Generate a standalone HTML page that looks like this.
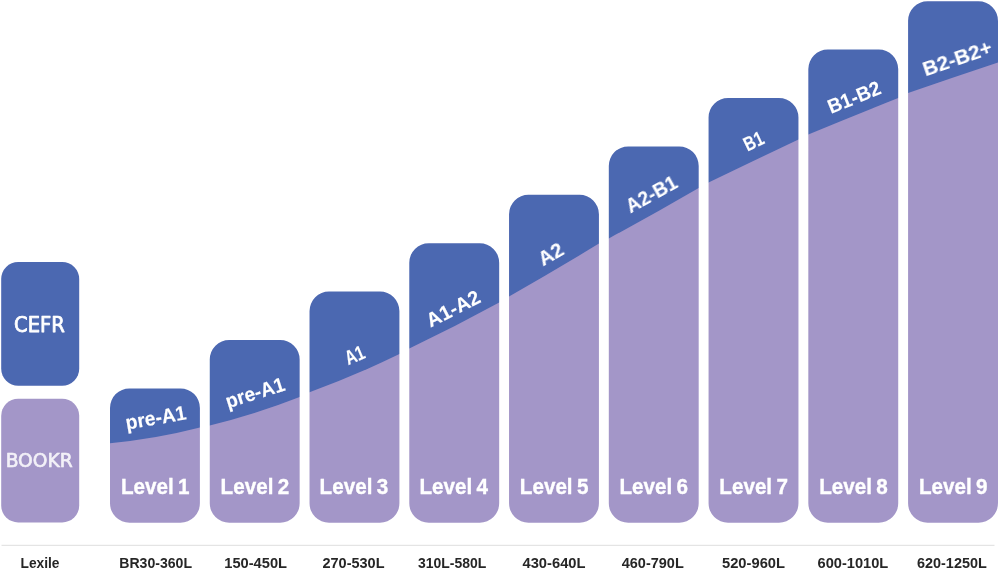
<!DOCTYPE html>
<html lang="en">
<head>
<meta charset="utf-8">
<title>CEFR / BOOKR / Lexile levels</title>
<style>
html,body{margin:0;padding:0;background:#fff;}
body{width:1000px;height:570px;overflow:hidden;font-family:"Liberation Sans",sans-serif;}
svg{display:block;}
text{font-family:"Liberation Sans",sans-serif;}
.cefr{fill:#fff;font-weight:bold;stroke:#fff;stroke-width:0.12px;}
.lvl{fill:#fff;font-weight:bold;stroke:#fff;stroke-width:0.35px;word-spacing:-1.5px;}
.lex{fill:#262626;font-weight:bold;}
.soft{filter:url(#soft);}
</style>
</head>
<body>
<svg width="1000" height="570" viewBox="0 0 1000 570">
<defs>
<filter id="soft" x="-5%" y="-5%" width="110%" height="110%"><feGaussianBlur stdDeviation="0.45"/></filter>
<filter id="softt" x="-5%" y="-20%" width="110%" height="140%"><feGaussianBlur stdDeviation="0.6"/></filter>
<clipPath id="bars">
<rect x="110.00" y="388.40" width="89.90" height="134.40" rx="19.5" ry="19.5"/>
<rect x="209.76" y="340.00" width="89.90" height="182.80" rx="19.5" ry="19.5"/>
<rect x="309.52" y="291.60" width="89.90" height="231.20" rx="19.5" ry="19.5"/>
<rect x="409.28" y="243.20" width="89.90" height="279.60" rx="19.5" ry="19.5"/>
<rect x="509.04" y="194.80" width="89.90" height="328.00" rx="19.5" ry="19.5"/>
<rect x="608.80" y="146.40" width="89.90" height="376.40" rx="19.5" ry="19.5"/>
<rect x="708.56" y="98.00" width="89.90" height="424.80" rx="19.5" ry="19.5"/>
<rect x="808.32" y="49.60" width="89.90" height="473.20" rx="19.5" ry="19.5"/>
<rect x="908.08" y="1.20" width="89.90" height="521.60" rx="19.5" ry="19.5"/>
</clipPath>
</defs>
<rect width="1000" height="570" fill="#fff"/>
<g class="soft">
<rect x="1.2" y="262" width="78" height="123.8" rx="17" ry="17" fill="#4c67b1"/>
<rect x="1.2" y="398.8" width="78" height="123.6" rx="17" ry="17" fill="#a396c8"/>
<g clip-path="url(#bars)">
<rect x="100" y="0" width="900" height="530" fill="#4c67b1"/>
<path d="M104.00,444.00 L110.00,443.20 Q154.95,439.20 199.90,427.60 L209.76,425.50 Q254.71,414.55 299.66,397.00 L309.52,392.20 Q354.47,375.90 399.42,354.00 L409.28,348.60 Q454.23,327.05 499.18,302.50 L509.04,296.40 Q553.99,271.00 598.94,243.60 L608.80,238.40 Q653.75,214.20 698.70,188.00 L708.56,182.40 Q753.51,161.00 798.46,139.60 L808.32,134.40 Q853.27,115.80 898.22,98.00 L908.08,93.00 Q953.03,77.30 997.98,62.40 L1006,61.40 L1006,530 L100,530 Z" fill="#a396c8"/>
</g>
</g>
<rect x="1.5" y="544.8" width="993" height="1" fill="#dedede"/>
<g filter="url(#softt)">
<text x="14.10" y="331.60" font-size="22.00" textLength="50.80" lengthAdjust="spacingAndGlyphs" fill="#ffffff" stroke="#ffffff" stroke-width="0.75" stroke-linejoin="round" font-weight="normal" style="font-family:'DejaVu Sans Condensed','DejaVu Sans','Liberation Sans',sans-serif">CEFR</text>
<text x="5.70" y="466.90" font-size="19.00" textLength="67.00" lengthAdjust="spacingAndGlyphs" fill="#f3f1f8" stroke="#f3f1f8" stroke-width="0.60" stroke-linejoin="round" font-weight="normal" style="font-family:'DejaVu Sans Condensed','DejaVu Sans','Liberation Sans',sans-serif">BOOKR</text>
<text class="cefr" transform="translate(155.69 417.33) rotate(-9.80)" x="-30.61" y="7.20" font-size="20.00" textLength="61.22" lengthAdjust="spacingAndGlyphs">pre-A1</text>
<text class="cefr" transform="translate(254.94 392.31) rotate(-17.60)" x="-30.59" y="7.20" font-size="20.00" textLength="61.17" lengthAdjust="spacingAndGlyphs">pre-A1</text>
<text class="cefr" transform="translate(354.56 354.79) rotate(-23.00)" x="-9.89" y="7.20" font-size="20.00" textLength="19.78" lengthAdjust="spacingAndGlyphs">A1</text>
<text class="cefr" transform="translate(453.02 308.36) rotate(-26.80)" x="-28.80" y="7.20" font-size="20.00" textLength="57.61" lengthAdjust="spacingAndGlyphs">A1-A2</text>
<text class="cefr" transform="translate(550.65 254.10) rotate(-30.00)" x="-12.87" y="7.20" font-size="20.00" textLength="25.74" lengthAdjust="spacingAndGlyphs">A2</text>
<text class="cefr" transform="translate(651.39 194.05) rotate(-28.90)" x="-27.73" y="7.20" font-size="20.00" textLength="55.45" lengthAdjust="spacingAndGlyphs">A2-B1</text>
<text class="cefr" transform="translate(753.50 140.89) rotate(-25.50)" x="-10.02" y="7.20" font-size="20.00" textLength="20.03" lengthAdjust="spacingAndGlyphs">B1</text>
<text class="cefr" transform="translate(854.00 97.04) rotate(-22.00)" x="-27.66" y="7.20" font-size="20.00" textLength="55.31" lengthAdjust="spacingAndGlyphs">B1-B2</text>
<text class="cefr" transform="translate(957.40 58.22) rotate(-18.80)" x="-35.90" y="7.20" font-size="20.00" textLength="71.80" lengthAdjust="spacingAndGlyphs">B2-B2+</text>
<text class="lvl" x="121.00" y="493.80" font-size="21.70" textLength="68.60" lengthAdjust="spacingAndGlyphs">Level 1</text>
<text class="lvl" x="220.60" y="493.80" font-size="21.70" textLength="68.60" lengthAdjust="spacingAndGlyphs">Level 2</text>
<text class="lvl" x="319.60" y="493.80" font-size="21.70" textLength="68.60" lengthAdjust="spacingAndGlyphs">Level 3</text>
<text class="lvl" x="419.50" y="493.80" font-size="21.70" textLength="68.60" lengthAdjust="spacingAndGlyphs">Level 4</text>
<text class="lvl" x="519.80" y="493.80" font-size="21.70" textLength="68.60" lengthAdjust="spacingAndGlyphs">Level 5</text>
<text class="lvl" x="619.40" y="493.80" font-size="21.70" textLength="68.60" lengthAdjust="spacingAndGlyphs">Level 6</text>
<text class="lvl" x="719.30" y="493.80" font-size="21.70" textLength="68.60" lengthAdjust="spacingAndGlyphs">Level 7</text>
<text class="lvl" x="819.20" y="493.80" font-size="21.70" textLength="68.60" lengthAdjust="spacingAndGlyphs">Level 8</text>
<text class="lvl" x="919.00" y="493.80" font-size="21.70" textLength="68.60" lengthAdjust="spacingAndGlyphs">Level 9</text>
<text class="lex" x="20.50" y="568.20" font-size="14.80" textLength="39.00" lengthAdjust="spacingAndGlyphs">Lexile</text>
<text class="lex" x="119.25" y="568.20" font-size="14.80" textLength="72.75" lengthAdjust="spacingAndGlyphs">BR30-360L</text>
<text class="lex" x="224.25" y="568.20" font-size="14.80" textLength="62.75" lengthAdjust="spacingAndGlyphs">150-450L</text>
<text class="lex" x="322.50" y="568.20" font-size="14.80" textLength="62.00" lengthAdjust="spacingAndGlyphs">270-530L</text>
<text class="lex" x="418.00" y="568.20" font-size="14.80" textLength="68.25" lengthAdjust="spacingAndGlyphs">310L-580L</text>
<text class="lex" x="522.50" y="568.20" font-size="14.80" textLength="63.00" lengthAdjust="spacingAndGlyphs">430-640L</text>
<text class="lex" x="621.75" y="568.20" font-size="14.80" textLength="62.00" lengthAdjust="spacingAndGlyphs">460-790L</text>
<text class="lex" x="722.00" y="568.20" font-size="14.80" textLength="63.00" lengthAdjust="spacingAndGlyphs">520-960L</text>
<text class="lex" x="817.50" y="568.20" font-size="14.80" textLength="70.75" lengthAdjust="spacingAndGlyphs">600-1010L</text>
<text class="lex" x="917.00" y="568.20" font-size="14.80" textLength="69.75" lengthAdjust="spacingAndGlyphs">620-1250L</text>
</g>
</svg>
</body>
</html>
